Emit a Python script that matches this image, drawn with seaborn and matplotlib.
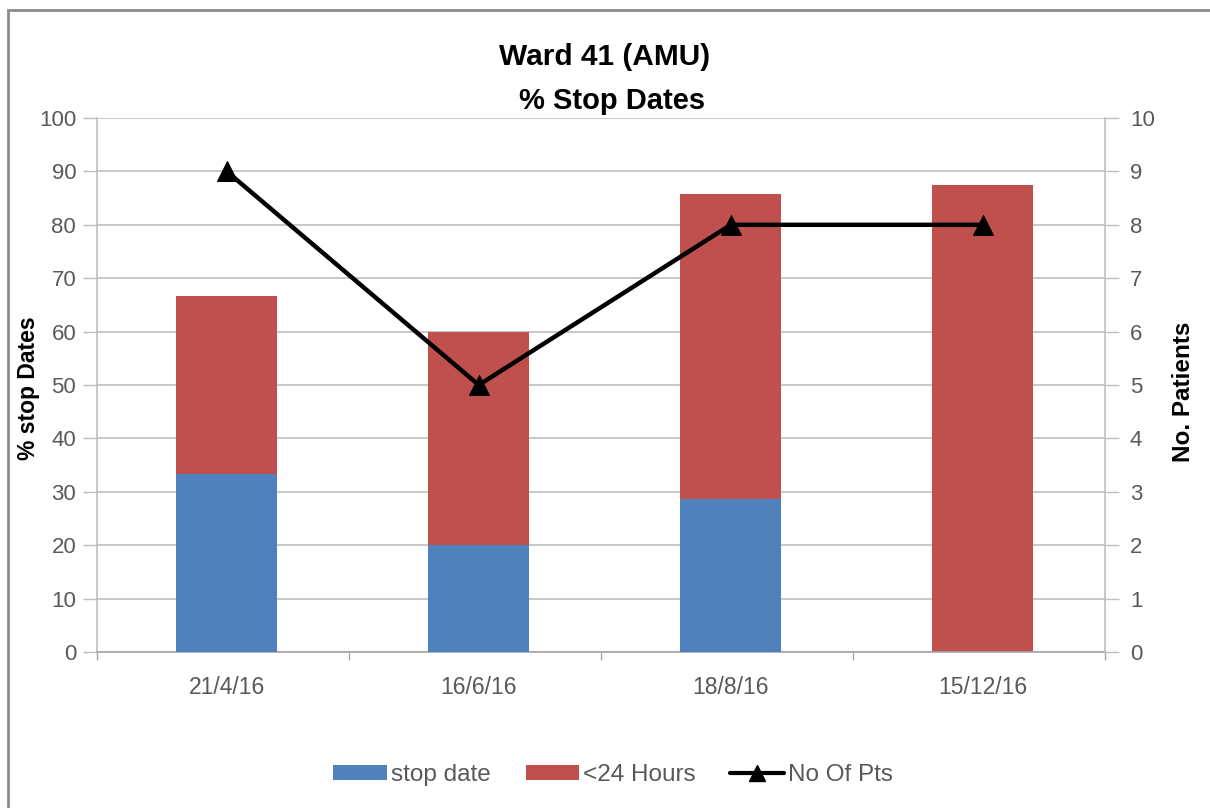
import numpy as np
import pandas as pd
import matplotlib
matplotlib.use("Agg")
import matplotlib.pyplot as plt
import seaborn as sns
from matplotlib.patches import Patch, Rectangle
from matplotlib.lines import Line2D

# Audit dates and results
dates = ["21/4/16", "16/6/16", "18/8/16", "15/12/16"]
stop_date_pct = [33.3, 20.0, 28.6, 0.0]
under_24h_pct = [33.3, 40.0, 57.1, 87.5]
no_of_pts = [9, 5, 8, 8]

BLUE = "#4F81BD"
RED = "#C0504D"
GRID = "#BFBFBF"
TXT = "#595959"

sns.set_theme(style="white")
plt.rcParams["font.family"] = ["Liberation Sans", "DejaVu Sans"]

df = pd.DataFrame({
    "date": dates,
    "stop": stop_date_pct,
    "h24": under_24h_pct,
})
df["total"] = df["stop"] + df["h24"]

fig = plt.figure(figsize=(12.1, 8.08), dpi=100)
fig.patch.set_facecolor("white")
ax = fig.add_axes([97 / 1210, 1 - 652 / 808, (1105 - 97) / 1210, (652 - 118) / 808])

# Stacked bars: full height in red, lower segment in blue drawn over it
sns.barplot(data=df, x="date", y="total", color=RED, width=0.4,
            saturation=1, ax=ax, zorder=2)
sns.barplot(data=df, x="date", y="stop", color=BLUE, width=0.4,
            saturation=1, ax=ax, zorder=3)
for p in ax.patches:
    p.set_linewidth(0)

XLIM = (-0.515, 3.485)
ax.set_xlim(*XLIM)
ax.set_ylim(0, 100)
ax.set_yticks(np.arange(0, 101, 10))
ax.yaxis.grid(True, color=GRID, linewidth=1.2, zorder=0)
ax.set_axisbelow(True)
ax.set_xlabel("")
ax.set_ylabel("")
fig.text(28 / 1210, 1 - 388 / 808, "% stop Dates", rotation=90, ha="center",
         va="center", fontsize=16.5, fontweight="bold", color="black")

for s in ["top", "right"]:
    ax.spines[s].set_visible(False)
ax.spines["left"].set_color(GRID)
ax.spines["bottom"].set_color("#A6A6A6")
ax.spines["left"].set_linewidth(1.2)
ax.spines["bottom"].set_linewidth(1.2)

ax.tick_params(axis="y", which="both", left=True, length=10, width=1.0,
               color=GRID, labelsize=16, labelcolor=TXT, pad=5)
ax.set_xticks(range(len(dates)))
ax.set_xticklabels(dates)
ax.tick_params(axis="x", which="major", bottom=False, labelsize=16.5,
               labelcolor=TXT, pad=11)
ax.set_xticks(np.arange(XLIM[0], 4.0, 1.0), minor=True)
ax.tick_params(axis="x", which="minor", bottom=True, length=6, width=1.0,
               color="#A6A6A6")

# Patient counts on the secondary axis
ax2 = ax.twinx()
sns.lineplot(x=np.arange(len(dates)), y=no_of_pts, ax=ax2, color="black",
             linewidth=3.2, marker="^", markersize=14, markeredgecolor="black",
             markerfacecolor="black", zorder=5)
ax2.set_ylim(0, 10)
ax2.set_yticks(np.arange(0, 11, 1))
ax2.set_xlim(*XLIM)
for s in ["top", "left", "bottom"]:
    ax2.spines[s].set_visible(False)
ax2.spines["right"].set_color(GRID)
ax2.spines["right"].set_linewidth(1.2)
ax2.tick_params(axis="y", right=True, length=10, width=1.0, color=GRID,
                labelsize=16, labelcolor=TXT, pad=8)
ax2.set_ylabel("")
fig.text(1183 / 1210, 1 - 392 / 808, "No. Patients", rotation=90, ha="center",
         va="center", fontsize=17.5, fontweight="bold", color="black")
ax2.grid(False)

# Titles
fig.text(605 / 1210, 1 - 57 / 808, "Ward 41 (AMU)", ha="center", va="center",
         fontsize=21.5, fontweight="bold", color="black")
fig.text(612 / 1210, 1 - 101 / 808, "% Stop Dates", ha="center", va="center",
         fontsize=21, fontweight="bold", color="black")

# Legend along the bottom
handles = [
    Patch(facecolor=BLUE, edgecolor="none", label="stop date"),
    Patch(facecolor=RED, edgecolor="none", label="<24 Hours"),
    Line2D([0], [0], color="black", linewidth=3, marker="^", markersize=11,
           label="No Of Pts"),
]
leg = fig.legend(handles=handles, loc="center", bbox_to_anchor=(613 / 1210, 1 - 775 / 808),
                 ncol=3, frameon=False, fontsize=17.5, handlelength=2.2,
                 handleheight=0.58, handletextpad=0.15, columnspacing=1.45)
for t in leg.get_texts():
    t.set_color(TXT)

# Outer chart frame
fig.add_artist(Rectangle((8 / 1210, -0.05), 1.2, 1 - 10 / 808 + 0.05,
                         transform=fig.transFigure, fill=False,
                         edgecolor="#8C8C8C", linewidth=2.0))

fig.savefig("out.png", dpi=100, facecolor="white")
